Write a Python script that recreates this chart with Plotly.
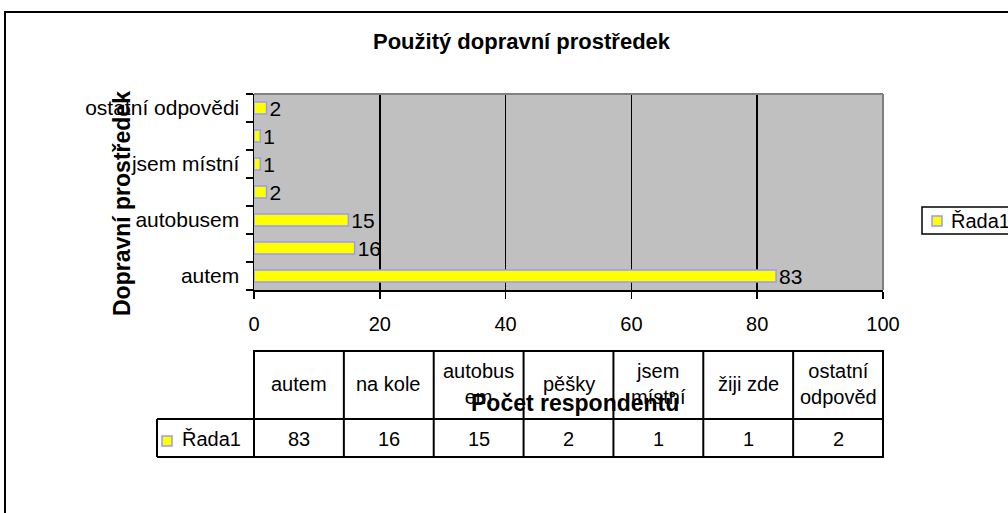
import plotly.graph_objects as go

# ---- data ----
categories = ["autem", "na kole", "autobusem", "pěšky", "jsem místní", "žiji zde", "ostatní odpovědi"]
values = [83, 16, 15, 2, 1, 1, 2]
series_name = "Řada1"
axis_labels = ["autem", "", "autobusem", "", "jsem místní", "", "ostatní odpovědi"]
table_headers = ["autem", "na kole", "autobus<br>em", "pěšky", "jsem<br>místní", "žiji zde", "ostatní<br>odpověd"]
x_ticks = [0, 20, 40, 60, 80, 100]

title_text = "Použitý dopravní prostředek"
x_title = "Počet respondentů"
y_title = "Dopravní prostředek"

# ---- layout geometry (page pixels) ----
W, H = 1008, 513
P_LEFT, P_RIGHT, P_TOP, P_BOT = 254, 883, 94, 290   # plot area in page pixels
L, T = P_LEFT, P_TOP
R, B = W - P_RIGHT, H - P_BOT
PW, PH = P_RIGHT - P_LEFT, P_BOT - P_TOP
FONT = "Arial, Liberation Sans, sans-serif"
BAR_FILL = "#FFFF00"
BAR_LINE = "#9999FF"


def px(x):
    return (x - P_LEFT) / PW


def py(y):
    return (P_BOT - y) / PH


fig = go.Figure()
fig.add_trace(go.Bar(
    x=values, y=categories, orientation="h", name=series_name,
    marker=dict(color=BAR_FILL, line=dict(color=BAR_LINE, width=1.5)),
    width=0.42,
    text=[str(v) for v in values], textposition="outside",
    textfont=dict(family=FONT, size=21, color="black"),
    cliponaxis=False, constraintext="none",
    showlegend=False,
))

shapes = []
annotations = []

# plot border (top/right gray)
shapes.append(dict(type="line", xref="paper", yref="paper", x0=0, x1=1, y0=1, y1=1,
                   line=dict(color="#808080", width=2), layer="above"))
shapes.append(dict(type="line", xref="paper", yref="paper", x0=1, x1=1, y0=0, y1=1,
                   line=dict(color="#808080", width=2), layer="above"))

# outer chart border
shapes.append(dict(type="rect", xref="paper", yref="paper",
                   x0=px(5), x1=px(1030), y0=py(12), y1=py(540),
                   line=dict(color="black", width=2), layer="below"))

# legend
shapes.append(dict(type="rect", xref="paper", yref="paper",
                   x0=px(922), x1=px(1030), y0=py(207), y1=py(234),
                   line=dict(color="black", width=1.5)))
shapes.append(dict(type="rect", xref="paper", yref="paper",
                   x0=px(932), x1=px(942), y0=py(216), y1=py(226),
                   fillcolor=BAR_FILL, line=dict(color=BAR_LINE, width=1.5)))
annotations.append(dict(text=series_name, xref="paper", yref="paper", x=px(949), y=py(221),
                        xanchor="left", yanchor="middle", showarrow=False,
                        font=dict(family=FONT, size=20, color="black")))

# data table
n = len(categories)
col_w = PW / n
table_top, row_mid, table_bot = 351, 419, 457
first_left = 157
lw = dict(color="black", width=2)


def hline(y, x0, x1):
    shapes.append(dict(type="line", xref="paper", yref="paper",
                       x0=px(x0), x1=px(x1), y0=py(y), y1=py(y), line=lw))


def vline(x, y0, y1):
    shapes.append(dict(type="line", xref="paper", yref="paper",
                       x0=px(x), x1=px(x), y0=py(y0), y1=py(y1), line=lw))


hline(table_top, P_LEFT - 1, P_RIGHT + 1)
hline(row_mid, first_left, P_RIGHT + 1)
hline(table_bot, first_left, P_RIGHT + 1)
vline(first_left, row_mid, table_bot)
for i in range(n + 1):
    vline(P_LEFT + i * col_w, table_top, table_bot)

for i, (hdr, v) in enumerate(zip(table_headers, values)):
    cx = P_LEFT + (i + 0.5) * col_w
    annotations.append(dict(text=hdr, xref="paper", yref="paper", x=px(cx), y=py(384),
                            xanchor="center", yanchor="middle", showarrow=False,
                            font=dict(family=FONT, size=20, color="black")))
    annotations.append(dict(text=str(v), xref="paper", yref="paper", x=px(cx), y=py(439),
                            xanchor="center", yanchor="middle", showarrow=False,
                            font=dict(family=FONT, size=20, color="black")))

# table legend key
shapes.append(dict(type="rect", xref="paper", yref="paper",
                   x0=px(162), x1=px(172), y0=py(436), y1=py(446),
                   fillcolor=BAR_FILL, line=dict(color=BAR_LINE, width=1.5)))
annotations.append(dict(text=series_name, xref="paper", yref="paper", x=px(180), y=py(439),
                        xanchor="left", yanchor="middle", showarrow=False,
                        font=dict(family=FONT, size=20, color="black")))

# titles
annotations.append(dict(text="<b>" + title_text + "</b>", xref="paper", yref="paper",
                        x=px(522), y=py(42), xanchor="center", yanchor="middle", showarrow=False,
                        font=dict(family=FONT, size=22, color="black")))
annotations.append(dict(text="<b>" + y_title + "</b>", xref="paper", yref="paper",
                        x=px(122), y=py(204), xanchor="center", yanchor="middle", showarrow=False,
                        textangle=-90, font=dict(family=FONT, size=23, color="black")))
annotations.append(dict(text="<b>" + x_title + "</b>", xref="paper", yref="paper",
                        x=px(575), y=py(403), xanchor="center", yanchor="middle", showarrow=False,
                        font=dict(family=FONT, size=23, color="black")))

fig.update_layout(
    width=W, height=H,
    margin=dict(l=L, r=R, t=T, b=B, pad=0),
    paper_bgcolor="white", plot_bgcolor="#C0C0C0",
    font=dict(family=FONT, color="black"),
    shapes=shapes, annotations=annotations,
    showlegend=False,
)
fig.update_xaxes(
    range=[0, 100], tickvals=x_ticks, ticktext=[str(t) for t in x_ticks],
    showgrid=True, gridcolor="black", gridwidth=1.5,
    showline=True, linecolor="black", linewidth=1.5,
    ticks="outside", ticklen=7, tickcolor="black", tickwidth=1.5,
    tickfont=dict(family=FONT, size=20, color="black"),
    ticklabelstandoff=8, zeroline=False, fixedrange=True,
)
fig.update_yaxes(
    type="category", categoryorder="array", categoryarray=categories,
    tickvals=categories, ticktext=axis_labels, tickson="boundaries",
    showgrid=False, showline=True, linecolor="black", linewidth=1.5,
    ticks="outside", ticklen=7, tickcolor="black", tickwidth=1.5,
    tickfont=dict(family=FONT, size=21, color="black"),
    ticklabelstandoff=9, zeroline=False, fixedrange=True,
)

fig.write_html(
    "out.html",
    config={"displayModeBar": False, "staticPlot": True},
    post_script="document.body.style.margin='0';document.body.style.overflow='hidden';",
)
